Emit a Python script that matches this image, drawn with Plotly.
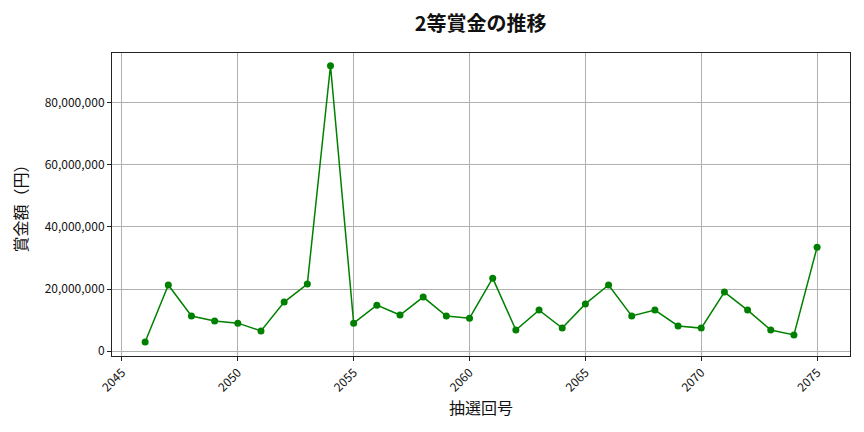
import plotly.graph_objects as go

# 抽選回号と2等賞金
draws = list(range(2046, 2076))
prizes = [
    2900000, 21300000, 11300000, 9700000, 9000000, 6500000, 15800000, 21600000,
    92000000, 9000000, 14800000, 11600000, 17400000, 11300000, 10600000, 23500000,
    6800000, 13200000, 7400000, 15200000, 21300000, 11300000, 13200000, 8100000,
    7400000, 19000000, 13200000, 6800000, 5200000, 33500000,
]
x_ticks = [2045, 2050, 2055, 2060, 2065, 2070, 2075]
y_ticks = [0, 20000000, 40000000, 60000000, 80000000]

FONT = "Noto Sans CJK JP"

fig = go.Figure()
fig.add_trace(go.Scatter(
    x=draws,
    y=prizes,
    mode="lines+markers",
    line=dict(color="green", width=1.5),
    marker=dict(color="green", size=7),
    showlegend=False,
))

axis_common = dict(
    showline=True, linecolor="#222", linewidth=1, mirror=True,
    showgrid=True, gridcolor="#b0b0b0", gridwidth=1,
    ticks="outside", ticklen=4, tickcolor="#222",
    zeroline=False, tickfont=dict(family=FONT, size=12, color="#111"),
)

fig.update_layout(
    width=864, height=432,
    margin=dict(l=104, r=22, t=45, b=84),
    paper_bgcolor="white", plot_bgcolor="white",
    title=dict(text="<b>2等賞金の推移</b>", x=0.547, xanchor="center", y=0.962,
               yanchor="middle", font=dict(family=FONT, size=20, color="#111")),
    xaxis=dict(axis_common, range=[2044.57, 2076.42], tickvals=x_ticks,
               tickangle=-45,
               title=dict(text="抽選回号", font=dict(family=FONT, size=16, color="#111"),
                          standoff=8)),
    yaxis=dict(axis_common, range=[-1600000, 96100000], tickvals=y_ticks,
               tickformat=",d",
               title=dict(text="賞金額（円）", font=dict(family=FONT, size=16, color="#111"),
                          standoff=14)),
)

fig.write_html("out.html")
